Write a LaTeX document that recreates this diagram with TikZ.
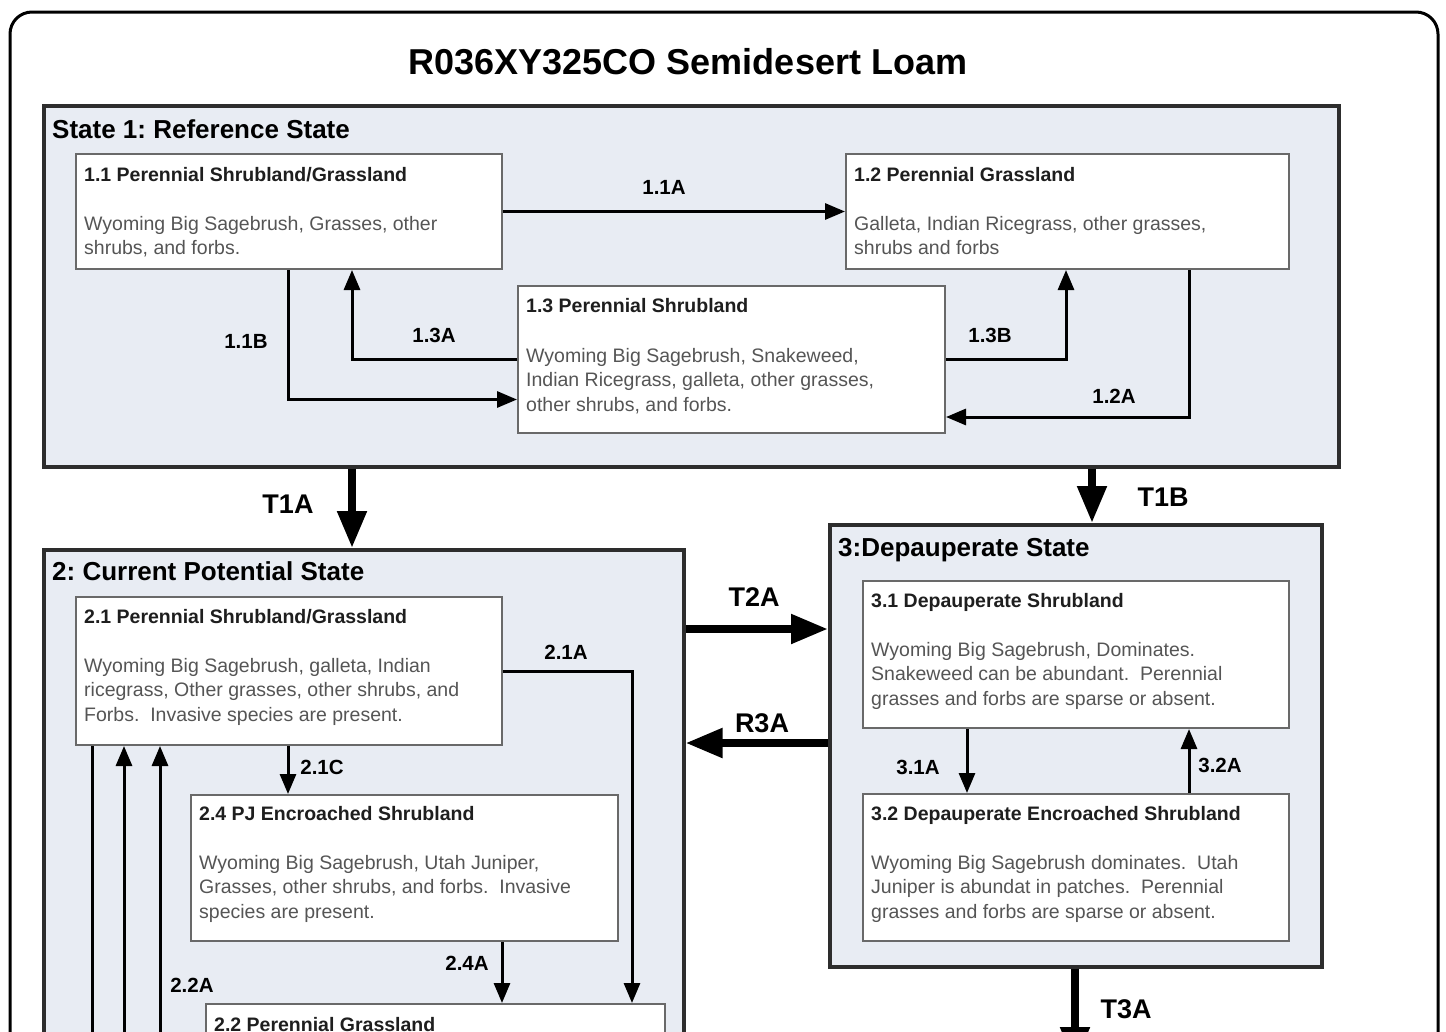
\documentclass[tikz,border=0pt]{standalone}
\usepackage{fontspec}
\setmainfont{Liberation Sans}
\usetikzlibrary{arrows.meta}
\definecolor{statefill}{RGB}{232,236,243}
\definecolor{stateborder}{RGB}{45,45,45}
\definecolor{boxborder}{RGB}{105,105,105}
\definecolor{bodygray}{RGB}{85,85,85}
\definecolor{ttlgray}{RGB}{30,30,30}
\newcommand{\fsz}[2]{\fontsize{#1}{#2}\selectfont}
\frenchspacing
\begin{document}
\begin{tikzpicture}[x=1pt,y=-1pt,
  frame/.style={draw=black, line width=3pt, rounded corners=22pt},
  statebox/.style={draw=stateborder, line width=3.5pt, fill=statefill, inner sep=0, anchor=north west},
  phasebox/.style={draw=boxborder, line width=2pt, fill=white, inner sep=0, anchor=north west},
  statettl/.style={anchor=base west, inner sep=0, font=\fsz{26}{30}\bfseries},
  boxttl/.style={anchor=base west, inner sep=0, font=\fsz{19.5}{24}\bfseries, text=ttlgray},
  bodytxt/.style={anchor=base west, inner sep=0, align=left, font=\fsz{19.5}{24.6}, text=bodygray},
  conn/.style={line width=3pt, -{Triangle[length=20pt,width=16pt]}},
  bigconn/.style={line width=8pt, -{Triangle[length=37pt,width=28pt]}},
  lbl/.style={font=\fsz{20.5}{24}\bfseries, inner sep=0},
  biglbl/.style={font=\fsz{27}{30}\bfseries, inner sep=0},
]
\useasboundingbox (0,0) rectangle (1446,1031);
\clip (0,0) rectangle (1446,1031);
\fill[white] (0,0) rectangle (1446,1031);
\draw[frame] (10,12) rectangle (1438,1090);
\node[font=\fsz{36}{40}\bfseries, inner sep=0] (title) at (688,62) {R036XY325CO Semidesert Loam};

% ---------- State 1
\node[statebox, minimum width=1295pt, minimum height=361pt] (s1) at (42,104) {};
\node[statettl] (s1t) at ([xshift=10pt,yshift=-34pt]s1.north west) {State 1: Reference State};

\node[phasebox, minimum width=426pt, minimum height=115pt] (b11) at (75,153) {};
\node[boxttl] (b11t) at ([xshift=9pt,yshift=-28pt]b11.north west) {1.1 Perennial Shrubland/Grassland};
\node[bodytxt] (b11b) at ([xshift=9pt,yshift=-101.6pt]b11.north west) {Wyoming Big Sagebrush, Grasses, other\\shrubs, and forbs.};

\node[phasebox, minimum width=443pt, minimum height=115pt] (b12) at (845,153) {};
\node[boxttl] (b12t) at ([xshift=9pt,yshift=-28pt]b12.north west) {1.2 Perennial Grassland};
\node[bodytxt] (b12b) at ([xshift=9pt,yshift=-101.6pt]b12.north west) {Galleta, Indian Ricegrass, other grasses,\\shrubs and forbs};

\node[phasebox, minimum width=427pt, minimum height=147pt] (b13) at (517,285) {};
\node[boxttl] (b13t) at ([xshift=9pt,yshift=-27pt]b13.north west) {1.3 Perennial Shrubland};
\node[bodytxt] (b13b) at ([xshift=9pt,yshift=-126.2pt]b13.north west) {Wyoming Big Sagebrush, Snakeweed,\\Indian Ricegrass, galleta, other grasses,\\other shrubs, and forbs.};

\draw[conn] (b11.east) -- (b12.west);
\draw[conn] ([xshift=213pt]b11.south west) |- ([yshift=-40pt]b13.west);
\draw[conn] (b13.west) -| ([xshift=277pt]b11.south west);
\draw[conn] (b13.east) -| ([xshift=221pt]b12.south west);
\draw[conn] ([xshift=344pt]b12.south west) |- ([yshift=-57.5pt]b13.east);
\node[lbl] (l11a) at (664,187) {1.1A};
\node[lbl] (l11b) at (246,341) {1.1B};
\node[lbl] (l13a) at (434,335) {1.3A};
\node[lbl] (l13b) at (990,335) {1.3B};
\node[lbl] (l12a) at (1114,396) {1.2A};

% ---------- State 2
\node[statebox, minimum width=640pt, minimum height=540pt] (s2) at (42,548) {};
\node[statettl] (s2t) at ([xshift=10pt,yshift=-32pt]s2.north west) {2: Current Potential State};

\node[phasebox, minimum width=426pt, minimum height=148pt] (b21) at (75,596) {};
\node[boxttl] (b21t) at ([xshift=9pt,yshift=-27pt]b21.north west) {2.1 Perennial Shrubland/Grassland};
\node[bodytxt] (b21b) at ([xshift=9pt,yshift=-125.2pt]b21.north west) {Wyoming Big Sagebrush, galleta, Indian\\ricegrass, Other grasses, other shrubs, and\\Forbs.\ \ Invasive species are present.};

\node[phasebox, minimum width=427pt, minimum height=146pt] (b24) at (190,794) {};
\node[boxttl] (b24t) at ([xshift=9pt,yshift=-26pt]b24.north west) {2.4 PJ Encroached Shrubland};
\node[bodytxt] (b24b) at ([xshift=9pt,yshift=-124.2pt]b24.north west) {Wyoming Big Sagebrush, Utah Juniper,\\Grasses, other shrubs, and forbs.\ \ Invasive\\species are present.};

\node[phasebox, minimum width=459pt, minimum height=90pt] (b22) at (205,1003) {};
\node[boxttl] (b22t) at ([xshift=9pt,yshift=-28pt]b22.north west) {2.2 Perennial Grassland};

\coordinate (e1) at (92,1070);
\coordinate (e2) at (124,1070);
\coordinate (e3) at (160,1070);
\draw[conn] (b21.east) -| ([xshift=427pt]b22.north west);
\draw[conn] ([xshift=213pt]b21.south west) -- ([xshift=98pt]b24.north west);
\draw[conn] ([xshift=312pt]b24.south west) -- ([xshift=297pt]b22.north west);
\draw[line width=3pt] ([xshift=17pt]b21.south west) -- (e1);
\draw[conn] (e2) -- ([xshift=49pt]b21.south west);
\draw[conn] (e3) -- ([xshift=85pt]b21.south west);
\node[lbl] (l21a) at (566,652) {2.1A};
\node[lbl] (l21c) at (322,767) {2.1C};
\node[lbl] (l24a) at (467,963) {2.4A};
\node[lbl] (l22a) at (192,985) {2.2A};

% ---------- State 3
\node[statebox, minimum width=492pt, minimum height=442pt] (s3) at (828,523) {};
\node[statettl] (s3t) at ([xshift=10pt,yshift=-33pt]s3.north west) {3:Depauperate State};

\node[phasebox, minimum width=426pt, minimum height=147pt] (b31) at (862,580) {};
\node[boxttl] (b31t) at ([xshift=9pt,yshift=-27pt]b31.north west) {3.1 Depauperate Shrubland};
\node[bodytxt] (b31b) at ([xshift=9pt,yshift=-125.2pt]b31.north west) {Wyoming Big Sagebrush, Dominates.\\Snakeweed can be abundant.\ \ Perennial\\grasses and forbs are sparse or absent.};

\node[phasebox, minimum width=426pt, minimum height=147pt] (b32) at (862,793) {};
\node[boxttl] (b32t) at ([xshift=9pt,yshift=-27pt]b32.north west) {3.2 Depauperate Encroached Shrubland};
\node[bodytxt] (b32b) at ([xshift=9pt,yshift=-125.2pt]b32.north west) {Wyoming Big Sagebrush dominates.\ \ Utah\\Juniper is abundat in patches.\ \ Perennial\\grasses and forbs are sparse or absent.};

\draw[conn] ([xshift=105pt]b31.south west) -- ([xshift=105pt]b32.north west);
\draw[conn] ([xshift=327pt]b32.north west) -- ([xshift=327pt]b31.south west);
\node[lbl] (l31a) at (918,767) {3.1A};
\node[lbl] (l32a) at (1220,765) {3.2A};

% ---------- State transitions
\coordinate (t3end) at (1075,1064);
\draw[bigconn] ([xshift=310pt]s1.south west) -- ([xshift=310pt]s2.north west);
\draw[bigconn] ([xshift=1050pt]s1.south west) -- ([xshift=264pt]s3.north west);
\draw[bigconn] ([yshift=-81pt]s2.north east) -- ([yshift=-106pt]s3.north west);
\draw[bigconn] ([yshift=-220pt]s3.north west) -- ([yshift=-195pt]s2.north east);
\draw[bigconn] ([xshift=247pt]s3.south west) -- (t3end);
\node[biglbl] (lt1a) at (288,504) {T1A};
\node[biglbl] (lt1b) at (1163,497) {T1B};
\node[biglbl] (lt2a) at (754,597) {T2A};
\node[biglbl] (lr3a) at (762,723) {R3A};
\node[biglbl] (lt3a) at (1126,1009) {T3A};
\end{tikzpicture}
\end{document}
